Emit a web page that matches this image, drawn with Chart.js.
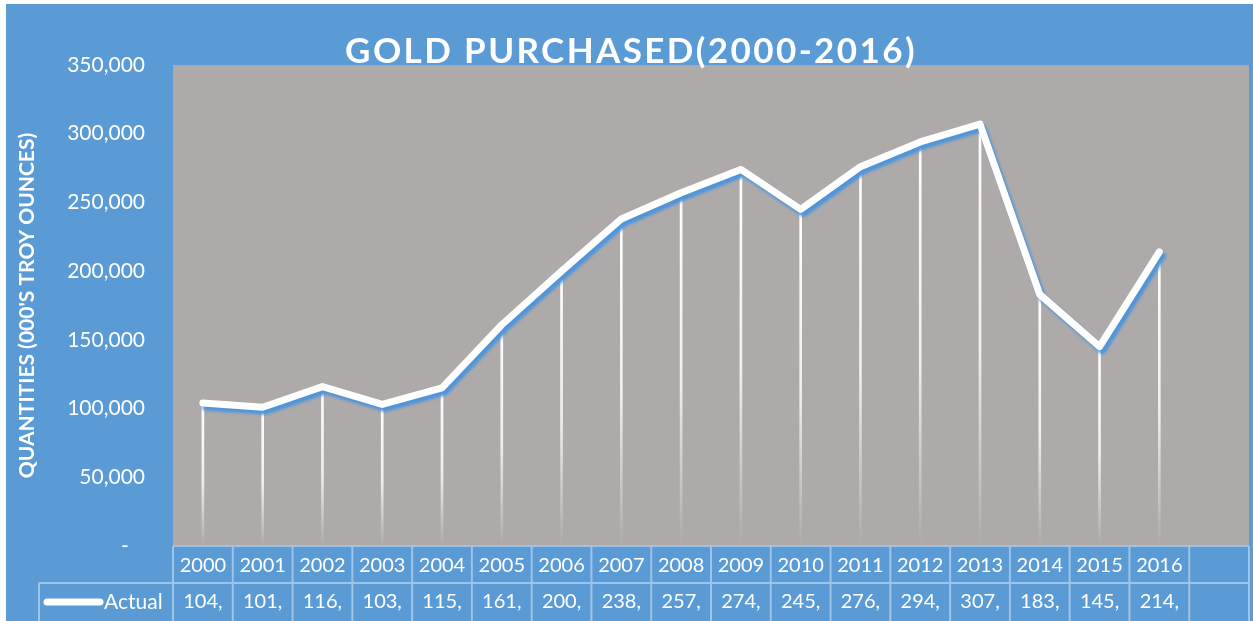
<!DOCTYPE html>
<html>
<head>
<meta charset="utf-8">
<script src="https://cdn.jsdelivr.net/npm/chart.js@4"></script>
<style>
  html, body { margin: 0; padding: 0; background: #fff; }
  #wrap { width: 1253px; height: 621px; }
</style>
</head>
<body>
<div id="wrap"><canvas id="gold-chart" width="1253" height="621"></canvas></div>
<script>
var years = ["2000", "2001", "2002", "2003", "2004", "2005", "2006", "2007", "2008",
  "2009", "2010", "2011", "2012", "2013", "2014", "2015", "2016"];
var actual = [104000, 101000, 116000, 103000, 115000, 161000, 200000, 238000, 257000,
  274000, 245000, 276000, 294000, 307000, 183000, 145000, 214000];
var categories = years.concat([""]);
var yMax = 350000;
var yStep = 50000;

var BLUE = "#5B9BD5";
var GRAY = "#AEAAAA";
var BORDER = "#9DC3E6";
var FONT = "Lato, 'Open Sans', sans-serif";

// white page margin, blue chart background, gray plot area
var backgroundPlugin = {
  id: "background",
  beforeDraw: function (chart) {
    var ctx = chart.ctx;
    var a = chart.chartArea;
    ctx.save();
    ctx.fillStyle = "#fff";
    ctx.fillRect(0, 0, chart.width, chart.height);
    ctx.fillStyle = BLUE;
    ctx.fillRect(6, 4, chart.width - 6, chart.height - 4);
    ctx.fillStyle = GRAY;
    ctx.fillRect(a.left, a.top, a.right - a.left, a.bottom - a.top);
    ctx.restore();
  },
};

// spaced-out title
var titlePlugin = {
  id: "spacedTitle",
  afterDraw: function (chart) {
    var ctx = chart.ctx;
    ctx.save();
    ctx.font = "bold 35px " + FONT;
    ctx.letterSpacing = "2.4px";
    ctx.fillStyle = "#fff";
    ctx.textAlign = "center";
    ctx.textBaseline = "alphabetic";
    ctx.fillText("GOLD PURCHASED(2000-2016)", 631, 63);
    ctx.restore();
  },
};

// blue shadow under the line
var shadowPlugin = {
  id: "lineShadow",
  beforeDatasetDraw: function (chart, args) {
    if (args.index !== 0) return;
    var ctx = chart.ctx;
    ctx.save();
    ctx.shadowColor = "#4F95DA";
    ctx.shadowBlur = 3;
    ctx.shadowOffsetX = 3;
    ctx.shadowOffsetY = 4;
  },
  afterDatasetDraw: function (chart, args) {
    if (args.index !== 0) return;
    chart.ctx.restore();
  },
};

// data table under the plot
var tablePlugin = {
  id: "dataTable",
  afterDraw: function (chart) {
    var ctx = chart.ctx;
    var a = chart.chartArea;
    var xs = chart.scales.x;
    var w = (a.right - a.left) / categories.length;
    var row1 = a.bottom, row2 = a.bottom + 37, row3 = chart.height + 2;
    var legendLeft = 39;

    ctx.save();
    ctx.strokeStyle = BORDER;
    ctx.lineWidth = 2;
    ctx.beginPath();
    ctx.moveTo(a.left, row1); ctx.lineTo(a.right, row1);
    ctx.moveTo(legendLeft, row2); ctx.lineTo(a.right, row2);
    ctx.moveTo(legendLeft, row2); ctx.lineTo(legendLeft, row3);
    for (var i = 0; i <= categories.length; i++) {
      var x = a.left + i * w;
      ctx.moveTo(x, row1); ctx.lineTo(x, row3);
    }
    ctx.stroke();

    ctx.fillStyle = "#fff";
    ctx.font = "20px " + FONT;
    ctx.textAlign = "center";
    ctx.textBaseline = "middle";
    for (var j = 0; j < years.length; j++) {
      var cx = xs.getPixelForValue(j);
      ctx.fillText(years[j], cx, (row1 + row2) / 2 + 1);
      ctx.fillText(Math.round(actual[j] / 1000) + ",", cx, row2 + 19);
    }

    // legend key
    ctx.strokeStyle = "#fff";
    ctx.lineWidth = 7;
    ctx.lineCap = "round";
    ctx.beginPath();
    ctx.moveTo(47, row2 + 19);
    ctx.lineTo(100, row2 + 19);
    ctx.stroke();
    ctx.textAlign = "left";
    ctx.font = "21px " + FONT;
    ctx.fillText("Actual", 104, row2 + 19);
    ctx.restore();
  },
};

function dropGradient(context) {
  var chart = context.chart;
  var a = chart.chartArea;
  if (!a || context.parsed === undefined) return "#fff";
  var top = chart.scales.y.getPixelForValue(context.parsed.y);
  var g = chart.ctx.createLinearGradient(0, top, 0, a.bottom);
  g.addColorStop(0, "rgba(255,255,255,1)");
  g.addColorStop(0.55, "rgba(255,255,255,0.8)");
  g.addColorStop(1, "rgba(255,255,255,0)");
  return g;
}

var goldChart = new Chart(document.getElementById("gold-chart"), {
  data: {
    labels: categories,
    datasets: [
      {
        type: "line",
        label: "Actual",
        data: actual,
        borderColor: "#fff",
        borderWidth: 7,
        borderCapStyle: "round",
        borderJoinStyle: "round",
        pointRadius: 0,
        tension: 0,
        order: 0,
      },
      {
        type: "bar",
        label: "drop",
        data: actual,
        backgroundColor: dropGradient,
        barThickness: 2,
        order: 1,
      },
    ],
  },
  options: {
    responsive: false,
    animation: false,
    layout: {
      padding: { left: 6, top: 65, right: 4, bottom: 75 },
    },
    plugins: {
      legend: { display: false },
      title: { display: false },
      tooltip: { enabled: false },
    },
    scales: {
      x: {
        display: false,
        offset: true,
      },
      y: {
        min: 0,
        max: yMax,
        afterFit: function (scale) {
          scale.width = 167;
        },
        grid: { display: false, drawTicks: false },
        border: { display: false },
        ticks: {
          stepSize: yStep,
          padding: 28,
          color: "#fff",
          font: { family: FONT, size: 21 },
          callback: function (v) {
            return v === 0 ? "-   " : v.toLocaleString("en-US");
          },
        },
        title: {
          display: true,
          text: "QUANTITIES (000'S TROY OUNCES)",
          color: "#fff",
          font: { family: FONT, size: 21, weight: "bold" },
          padding: { top: 9, bottom: 0 },
        },
      },
    },
  },
  plugins: [backgroundPlugin, shadowPlugin, tablePlugin, titlePlugin],
});
</script>
</body>
</html>
